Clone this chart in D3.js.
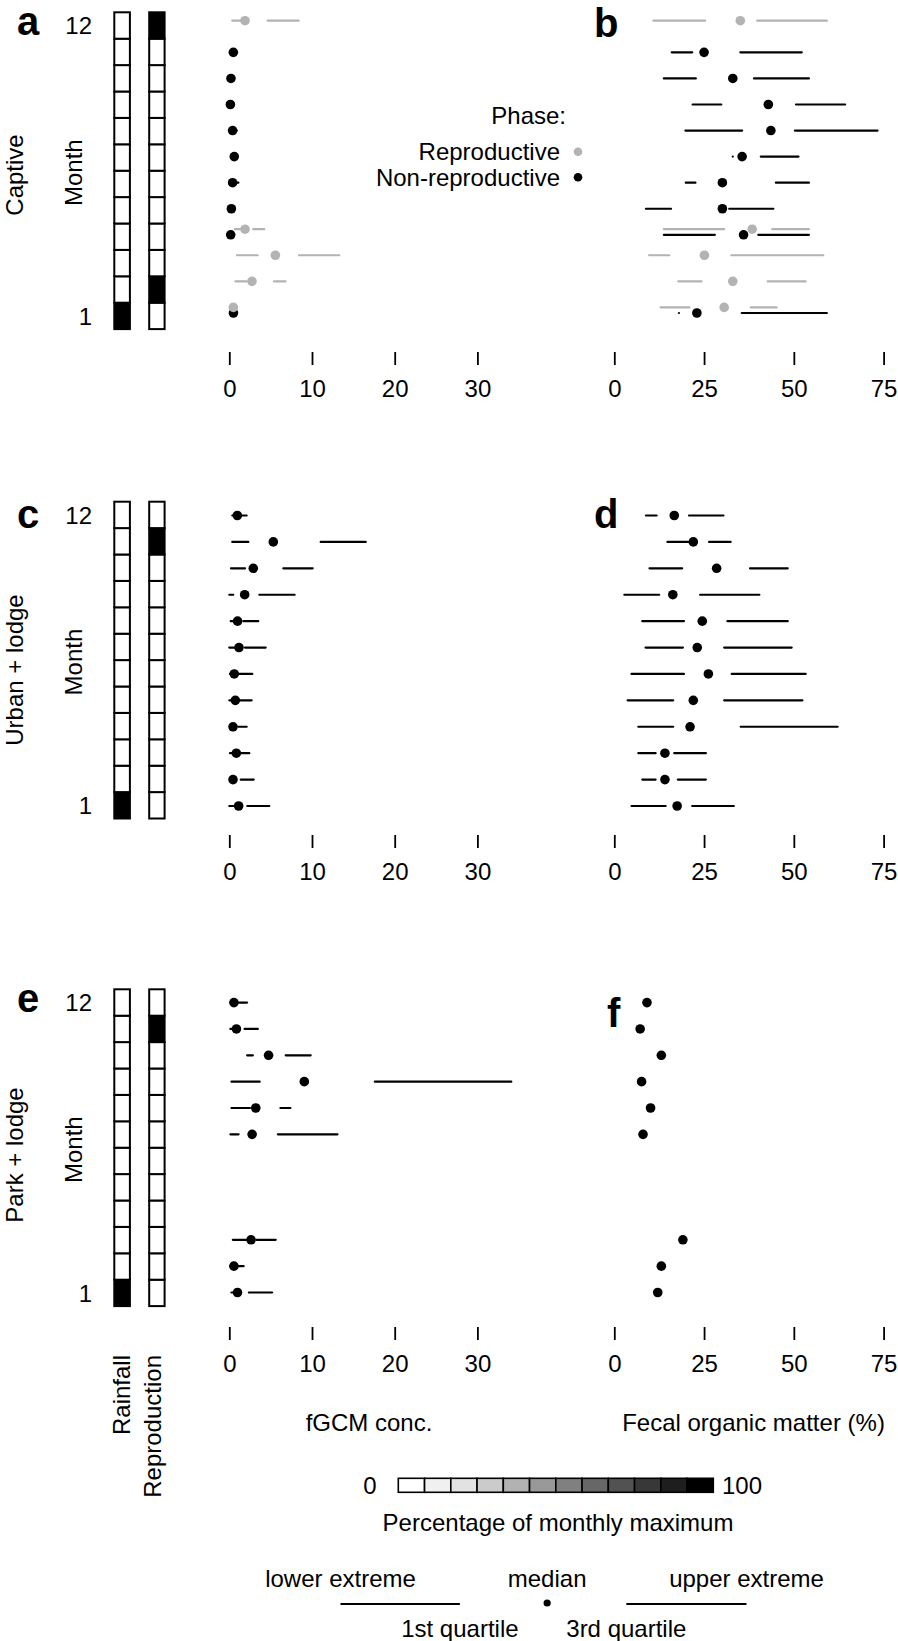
<!DOCTYPE html>
<html><head><meta charset="utf-8">
<script src="https://cdn.jsdelivr.net/npm/d3@7"></script>
<style>
body{margin:0;background:#fff}
svg{display:block}
text{font-family:"Liberation Sans",Arial,Helvetica,sans-serif;fill:#000}
</style>
</head><body>
<svg id="chart" width="898" height="1641"></svg>
<script>
// ---------------- DATA ----------------
const months = [1,2,3,4,5,6,7,8,9,10,11,12];
const fgcmTicks = [0,10,20,30];
const fomTicks = [0,25,50,75];
const siteNames = ["Captive","Urban + lodge","Park + lodge"];
const leftLetters = ["a","c","e"];
const rightLetters = ["b","d","f"];
const xTitles = ["fGCM conc.","Fecal organic matter (%)"];
const phaseNames = ["Reproductive","Non-reproductive"];

// % of monthly maximum, months 1..12
const rainfallPct     = [100,0,0,0,0,0,0,0,0,0,0,0];
const reproCaptivePct = [0,100,0,0,0,0,0,0,0,0,0,100];
const reproUrbanPct   = [0,0,0,0,0,0,0,0,0,0,100,0];
const reproParkPct    = [0,0,0,0,0,0,0,0,0,0,100,0];

// stats rows: [lower extreme, 1st quartile, median, 3rd quartile, upper extreme]
// a: Captive, fGCM
const aReproMonths = [12,4,3,2,1];
const aReproStats = [
  [0.36,1.38,1.9,4.64,8.39],
  [0.69,1.5,1.9,2.9,4.23],
  [0.93,3.43,5.57,8.43,13.3],
  [0.73,2.1,2.74,5.4,6.8],
  [0.3,0.4,0.49,0.6,0.7]
];
const aNonMonths = [11,10,9,8,7,6,5,4,1];
const aNonStats = [
  [0.3,0.4,0.49,0.6,0.7],
  [0.05,0.1,0.2,0.3,0.4],
  [0.0,0.05,0.13,0.2,0.3],
  [0.2,0.3,0.4,0.6,0.9],
  [0.4,0.5,0.6,0.7,0.8],
  [0.2,0.3,0.4,0.6,1.1],
  [0.05,0.15,0.25,0.35,0.45],
  [0.0,0.1,0.17,0.25,0.35],
  [0.3,0.4,0.5,0.6,0.7]
];
// b: Captive, fecal organic matter
const bReproMonths = [12,4,3,2,1];
const bReproStats = [
  [10.9,25.3,35.1,39.8,59.2],
  [13.8,30.6,38.4,44.0,54.2],
  [9.7,15.3,25.1,32.6,58.2],
  [17.8,24.3,33.0,42.7,53.3],
  [12.9,20.9,30.6,38.0,45.2]
];
const bNonMonths = [11,10,9,8,7,6,5,4,1];
const bNonStats = [
  [16.0,21.7,25.0,35.1,52.2],
  [13.8,22.7,33.0,38.9,54.2],
  [21.8,29.8,42.9,50.6,64.3],
  [19.8,35.6,43.6,50.3,73.3],
  [33.0,33.0,35.6,40.8,51.3],
  [19.9,22.6,30.1,45.0,54.2],
  [8.8,15.8,30.1,32.0,44.3],
  [13.8,28.0,36.0,40.1,54.2],
  [18.0,18.0,23.0,35.5,59.2]
];
// c: Urban + lodge, fGCM
const cMonths = [12,11,10,9,8,7,6,5,4,3,2,1];
const cStats = [
  [0.36,0.8,0.97,1.2,2.1],
  [0.36,2.3,5.32,11.05,16.5],
  [0.2,1.9,2.9,6.53,10.08],
  [0.0,0.48,1.86,3.63,7.9],
  [0.17,0.8,1.0,1.7,3.5],
  [0.0,0.9,1.17,1.9,4.4],
  [0.08,0.4,0.6,1.09,2.78],
  [0.0,0.4,0.73,1.29,2.7],
  [0.1,0.3,0.45,1.09,2.1],
  [0.08,0.5,0.85,1.29,2.42],
  [0.1,0.2,0.45,1.38,2.95],
  [0.0,0.7,1.13,2.18,4.84]
];
// d: Urban + lodge, fecal organic matter
const dMonths = [12,11,10,9,8,7,6,5,4,3,2,1];
const dStats = [
  [8.8,11.8,16.7,20.8,30.4],
  [14.8,20.6,22.0,26.4,32.4],
  [9.8,18.9,28.5,37.8,48.3],
  [2.8,12.5,16.3,23.9,40.4],
  [7.8,19.4,24.5,31.5,48.3],
  [8.7,19.1,23.1,30.6,49.4],
  [4.8,19.4,26.2,32.7,53.3],
  [3.7,16.4,22.0,30.6,52.4],
  [6.7,16.4,21.1,35.2,62.2],
  [6.7,11.5,14.1,16.7,25.5],
  [7.8,11.5,14.1,17.7,25.5],
  [4.8,14.3,17.5,21.7,33.3]
];
// e: Park + lodge, fGCM
const eMonths = [12,11,10,9,8,7,3,2,1];
const eStats = [
  [0.13,0.4,0.56,0.9,2.15],
  [0.13,0.5,0.86,1.85,3.45],
  [2.15,2.85,4.75,6.82,9.84],
  [0.26,3.67,9.07,17.6,34.1],
  [0.26,2.5,3.2,6.18,7.39],
  [0.13,1.12,2.76,5.87,13.08],
  [0.43,2.07,2.63,3.28,5.61],
  [0.13,0.3,0.56,0.99,1.73],
  [0.26,0.7,0.99,2.37,5.18]
];
// f: Park + lodge, fecal organic matter (medians only)
const fMonths = [12,11,10,9,8,7,3,2,1];
const fMedians = [9.1,7.2,13.1,7.6,10.1,8.0,19.1,13.1,12.1];

// key
const rampLevels = d3.range(12);
const keyStatNames = ["lower extreme","1st quartile","median","3rd quartile","upper extreme"];
const keyStatPos = [0,29.4,50.9,70.4,100];

// ---------------- LAYOUT / STYLE ----------------
const svg = d3.select("#chart");
const FS = 24;
const GREY = "#b3b3b3";
const LW = 2.2;
const R = 4.8;
const cellH = 26.4;
const panelTop = [12.3, 501.7, 989.3];
const tickTop = [352, 835, 1327];
const ptRange = [[313, 26.3],[806, 515.5],[1292.5, 1002.6]];
const siteCenter = [175, 670, 1155];
const letterBase = [[35,36.7],[528,528],[1011.7,1027]];
const letterX = [[17,594],[17,594],[17,607]];

const grays = ["#ffffff","#f0f0f0","#e2e2e2","#cbcbcb","#b2b2b2","#999999","#808080","#676767","#525252","#383838","#1e1e1e","#000000"];
const colorScale = d3.scaleQuantize().domain([0,100]).range(grays);

const xL = d3.scaleLinear().domain([0,30]).range([229.3,477.4]);
const xR = d3.scaleLinear().domain([0,75]).range([614.3,883.6]);
const reproShift = 0.215;

function txt(x,y,s,opts={}){
  const t = svg.append("text").attr("x",x).attr("y",y).text(s)
    .attr("font-size",opts.fs||FS)
    .attr("text-anchor",opts.anchor||"start");
  if(opts.bold) t.attr("font-weight","bold");
  if(opts.rot) t.attr("transform",`rotate(${opts.rot},${x},${y})`);
  return t;
}

function drawSeries(g, x, y, ms, stats, color, shift){
  const rows = ms.map((m,i)=>({m, s:stats[i]}));
  const gg = g.append("g");
  gg.selectAll("line.lo").data(rows).join("line")
    .attr("x1",d=>x(d.s[0])).attr("x2",d=>x(d.s[1]))
    .attr("y1",d=>y(d.m+shift)).attr("y2",d=>y(d.m+shift))
    .attr("stroke",color).attr("stroke-width",LW).attr("stroke-linecap","round");
  gg.selectAll("line.hi").data(rows).join("line")
    .attr("x1",d=>x(d.s[3])).attr("x2",d=>x(d.s[4]))
    .attr("y1",d=>y(d.m+shift)).attr("y2",d=>y(d.m+shift))
    .attr("stroke",color).attr("stroke-width",LW).attr("stroke-linecap","round");
  gg.selectAll("circle").data(rows).join("circle")
    .attr("cx",d=>x(d.s[2])).attr("cy",d=>y(d.m+shift)).attr("r",R).attr("fill",color);
}

function drawAxis(x, ticks, top){
  const g = svg.append("g").attr("transform",`translate(0,${top})`)
    .call(d3.axisBottom(x).tickValues(ticks).tickSize(13).tickPadding(15).tickFormat(d3.format("d")));
  g.select(".domain").remove();
  g.selectAll(".tick line").attr("stroke","#000").attr("stroke-width",1.8);
  g.selectAll(".tick text").attr("font-size",FS).attr("font-family","Liberation Sans, Arial, sans-serif").attr("fill","#000");
}

const reproRows = [reproCaptivePct, reproUrbanPct, reproParkPct];
const monthsDesc = months.slice().reverse();

for(let r=0;r<3;r++){
  const top = panelTop[r];
  const band = d3.scaleBand().domain(monthsDesc).range([top, top+12*cellH]);
  const yPt = d3.scaleLinear().domain([1,12]).range(ptRange[r]);
  const cg = svg.append("g");
  cg.selectAll("rect.rain").data(months).join("rect")
    .attr("x",114.3).attr("width",15.6)
    .attr("y",m=>band(m)).attr("height",band.bandwidth())
    .attr("fill",m=>colorScale(rainfallPct[m-1])).attr("stroke","#000").attr("stroke-width",2);
  cg.selectAll("rect.rep").data(months).join("rect")
    .attr("x",149.2).attr("width",15.4)
    .attr("y",m=>band(m)).attr("height",band.bandwidth())
    .attr("fill",m=>colorScale(reproRows[r][m-1])).attr("stroke","#000").attr("stroke-width",2);
  txt(92, band(12)+band.bandwidth()/2+8.6, "12", {anchor:"end"});
  txt(92, band(1)+band.bandwidth()/2+8.6, "1", {anchor:"end"});
  const mid = top + 6*cellH + 2;
  txt(82, mid, "Month", {anchor:"middle", rot:-90});
  txt(22.5, siteCenter[r], siteNames[r], {anchor:"middle", rot:-90});
  txt(letterX[r][0], letterBase[r][0], leftLetters[r], {bold:true, fs:40});
  txt(letterX[r][1], letterBase[r][1], rightLetters[r], {bold:true, fs:40});
  drawAxis(xL, fgcmTicks, tickTop[r]);
  drawAxis(xR, fomTicks, tickTop[r]);

  const g = svg.append("g");
  if(r===0){
    drawSeries(g, xL, yPt, aNonMonths, aNonStats, "#000", 0);
    drawSeries(g, xL, yPt, aReproMonths, aReproStats, GREY, reproShift);
    drawSeries(g, xR, yPt, bReproMonths, bReproStats, GREY, reproShift);
    drawSeries(g, xR, yPt, bNonMonths, bNonStats, "#000", 0);
  } else if(r===1){
    drawSeries(g, xL, yPt, cMonths, cStats, "#000", 0);
    drawSeries(g, xR, yPt, dMonths, dStats, "#000", 0);
  } else {
    drawSeries(g, xL, yPt, eMonths, eStats, "#000", 0);
    g.selectAll("circle.f").data(fMonths.map((m,i)=>({m, v:fMedians[i]}))).join("circle")
      .attr("cx",d=>xR(d.v)).attr("cy",d=>yPt(d.m)).attr("r",R).attr("fill","#000");
  }
}

// phase legend
txt(566, 123.6, "Phase:", {anchor:"end"});
txt(560, 160.3, phaseNames[0], {anchor:"end"});
txt(560, 185.5, phaseNames[1], {anchor:"end"});
svg.append("circle").attr("cx",578).attr("cy",151.7).attr("r",4.3).attr("fill",GREY);
svg.append("circle").attr("cx",578).attr("cy",177.3).attr("r",4.3).attr("fill","#000");

// bottom labels
txt(130, 1355, "Rainfall", {anchor:"end", rot:-90});
txt(161, 1355, "Reproduction", {anchor:"end", rot:-90});
txt(369, 1431, xTitles[0], {anchor:"middle"});
txt(753.5, 1431, xTitles[1], {anchor:"middle"});

// colour ramp key
const keyX = d3.scaleBand().domain(rampLevels).range([398.3,713.3]);
svg.append("g").selectAll("rect").data(rampLevels).join("rect")
  .attr("x",d=>keyX(d)).attr("width",keyX.bandwidth())
  .attr("y",1478.3).attr("height",14)
  .attr("fill",d=>grays[d]).attr("stroke","#000").attr("stroke-width",1.6);
txt(370, 1493.6, "0", {anchor:"middle"});
txt(722, 1493.6, "100", {anchor:"start"});
txt(558, 1531, "Percentage of monthly maximum", {anchor:"middle"});

// box key
const kx = d3.scaleLinear().domain([0,100]).range([340.5,746.5]);
const ky = 1604;
svg.append("line").attr("x1",kx(keyStatPos[0])).attr("x2",kx(keyStatPos[1])).attr("y1",ky).attr("y2",ky).attr("stroke","#000").attr("stroke-width",LW);
svg.append("line").attr("x1",kx(keyStatPos[3])).attr("x2",kx(keyStatPos[4])).attr("y1",ky).attr("y2",ky).attr("stroke","#000").attr("stroke-width",LW);
svg.append("circle").attr("cx",kx(keyStatPos[2])).attr("cy",ky-1).attr("r",3.6).attr("fill","#000");
[0,2,4].forEach(i=>txt(kx(keyStatPos[i]), 1587, keyStatNames[i], {anchor:"middle"}));
[1,3].forEach(i=>txt(kx(keyStatPos[i]), 1637, keyStatNames[i], {anchor:"middle"}));
</script>
</body></html>
